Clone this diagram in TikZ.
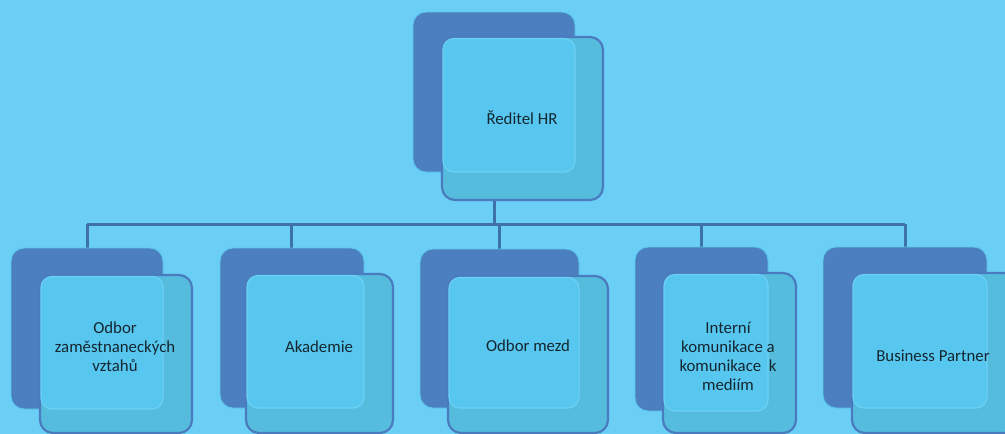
\documentclass[tikz,border=0pt]{standalone}
\usepackage{fontspec}
\setmainfont{Carlito}
\definecolor{bgblue}{HTML}{6BCEF5}
\definecolor{backfill}{HTML}{4C7FC0}
\definecolor{backedge}{HTML}{5CC6EC}
\definecolor{frontfill}{HTML}{56BCDE}
\definecolor{frontedge}{HTML}{4A7BBE}
\definecolor{innerfill}{HTML}{58C7F0}
\definecolor{inneredge}{HTML}{6CD0F4}
\definecolor{linkcol}{HTML}{3E71A9}
\definecolor{labelcol}{HTML}{14262F}
\tikzset{
  backbox/.style={draw=backedge, line width=0.9pt, fill=backfill, rounded corners=13pt,
    anchor=north west, inner sep=0pt, outer sep=0pt},
  frontbox/.style={draw=frontedge, line width=2.2pt, fill=frontfill, rounded corners=13pt,
    anchor=north west, inner sep=0pt, outer sep=0pt},
  innerbox/.style={draw=inneredge, line width=1.2pt, fill=innerfill, rounded corners=11pt},
  link/.style={draw=linkcol, line width=3pt},
  caption/.style={text=labelcol, align=center, inner sep=0pt,
    font=\fontsize{16.8}{19}\selectfont},
}
% one unit: name, back corner, back size, front corner, front size
\newcommand\orgunit[9]{%
  \node[backbox, minimum width=#4pt, minimum height=#5pt] (#1b) at (#2,#3) {};
  \node[frontbox, minimum width=#8pt, minimum height=#9pt] (#1f) at (#6,#7) {};
  \path[innerbox] ([xshift=1pt,yshift=-1.5pt]#1f.north west) rectangle (#1b.south east);
}
\begin{document}
\begin{tikzpicture}[x=1pt,y=-1pt]
  \fill[bgblue] (0,0) rectangle (1005,434);
  \useasboundingbox (0,0) rectangle (1005,434);

  % connectors (behind the boxes)
  \coordinate (topstem) at (494,172);
  \coordinate (busmid) at (494,224);
  \coordinate (busl) at (87,224);
  \coordinate (busr) at (905,224);
  \draw[link] (topstem) -- (busmid);
  \draw[link] (busl) -- (busr);
  \foreach \cx in {87,291,499,701,905}
    \draw[link] (\cx,224) -- (\cx,250);

  % boxes
  \orgunit{t}{413}{12}{162}{160}{442}{37}{161}{163}
  \orgunit{a}{11}{248}{152}{161}{40}{275}{152}{158}
  \orgunit{c}{220}{248}{144}{160}{246}{274}{147}{159}
  \orgunit{d}{420}{249}{159}{159}{448}{276}{160}{157}
  \orgunit{e}{635}{247}{133}{164}{663}{273}{133}{160}
  \orgunit{f}{823}{247}{164}{161}{852}{273}{165}{160}

  % texts
  \node[caption] (tl) at (522,118) {Ředitel HR};
  \node[caption] (al) at (115,347) {Odbor\\zaměstnaneckých\\vztahů};
  \node[caption] (cl) at (319,347) {Akademie};
  \node[caption] (dl) at (528,346) {Odbor mezd};
  \node[caption] (el) at (728,356) {Interní\\komunikace a\\komunikace\ \ k\\mediím};
  \node[caption] (fl) at (933,356) {Business Partner};
\end{tikzpicture}
\end{document}
